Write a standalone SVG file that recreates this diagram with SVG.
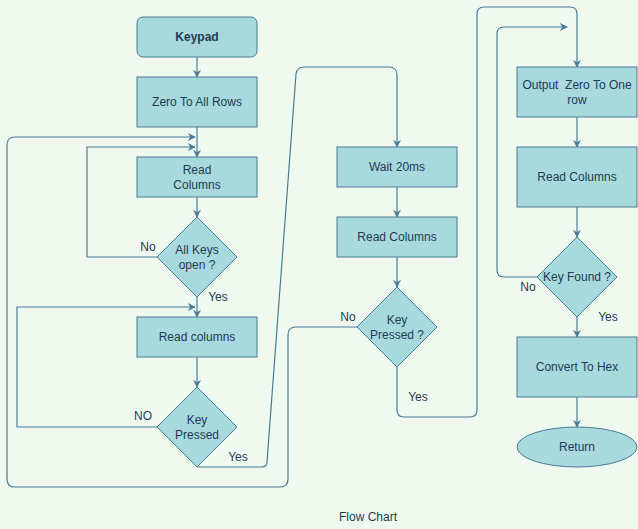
<svg xmlns="http://www.w3.org/2000/svg" width="638" height="529" viewBox="0 0 638 529">
<style>
.n{fill:#a8d9dc;stroke:#4a7c98;stroke-width:1}
.c{fill:none;stroke:#4a7c98;stroke-width:1.2}
.a{fill:none;stroke:#4a7c98;stroke-width:1.2;marker-end:url(#ah)}
text{font-family:"Liberation Sans",Arial,sans-serif;font-size:12px;fill:#1f3a55;text-anchor:middle}
.l{text-anchor:start}
</style>
<defs>
<marker id="ah" viewBox="0 0 10 10" refX="9" refY="5" markerWidth="8" markerHeight="8" markerUnits="userSpaceOnUse" orient="auto">
<path d="M0,0 L10,5 L0,10 L3,5 Z" fill="#4a7c98"/>
</marker>
</defs>
<rect width="638" height="529" fill="#f0f9ef"/>
<g id="connectors">
<path class="a" d="M197,57 V77"/>
<path class="a" d="M197,127 V157"/>
<path class="a" d="M157,257 H87 V147 H195"/>
<path class="a" d="M357,327 H296 Q288,327 288,335 V479 Q288,487 280,487 H15 Q7,487 7,479 V145 Q7,137 15,137 H195"/>
<path class="a" d="M197,197 V217"/>
<path class="a" d="M197,297 V317"/>
<path class="a" d="M157,427 H17 V307 H195"/>
<path class="a" d="M197,357 V387"/>
<path class="a" d="M197,467 H262 Q267,467 267,462 L296,74 Q297,67 304,67 H389 Q397,67 397,75 V147"/>
<path class="a" d="M397,187 V217"/>
<path class="a" d="M397,257 V287"/>
<path class="a" d="M397,367 V410 Q397,417 404,417 H470 Q477,417 477,410 V14 Q477,7 484,7 H570 Q577,7 577,14 V67"/>
<path class="a" d="M537,277 H504 Q497,277 497,270 V34 Q497,27 504,27 H567"/>
<path class="a" d="M577,117 V147"/>
<path class="a" d="M577,207 V237"/>
<path class="a" d="M577,317 V337"/>
<path class="a" d="M577,397 V427"/>
</g>
<g id="keypad"><rect class="n" x="137" y="17" width="120" height="40" rx="6"/><text x="197" y="41" style="font-weight:bold">Keypad</text></g>
<g id="zero-rows"><rect class="n" x="137" y="77" width="120" height="50"/><text x="197" y="106">Zero To All Rows</text></g>
<g id="read-columns-1"><rect class="n" x="137" y="157" width="120" height="40"/><text x="197" y="174">Read</text><text x="197" y="189">Columns</text></g>
<g id="all-keys-open"><path class="n" d="M197,217 L237,257 L197,297 L157,257 Z"/><text x="197" y="254">All Keys</text><text x="197" y="269">open ?</text></g>
<g id="read-columns-2"><rect class="n" x="137" y="317" width="120" height="40"/><text x="197" y="341">Read columns</text></g>
<g id="key-pressed-1"><path class="n" d="M197,387 L237,427 L197,467 L157,427 Z"/><text x="197" y="424">Key</text><text x="197" y="439">Pressed</text></g>
<g id="wait"><rect class="n" x="337" y="147" width="120" height="40"/><text x="397" y="171">Wait 20ms</text></g>
<g id="read-columns-3"><rect class="n" x="337" y="217" width="120" height="40"/><text x="397" y="241">Read Columns</text></g>
<g id="key-pressed-2"><path class="n" d="M397,287 L437,327 L397,367 L357,327 Z"/><text x="397" y="324">Key</text><text x="397" y="339">Pressed ?</text></g>
<g id="output-zero"><rect class="n" x="517" y="67" width="120" height="50"/><text x="577" y="89" style="white-space:pre">Output  Zero To One</text><text x="577" y="104">row</text></g>
<g id="read-columns-4"><rect class="n" x="517" y="147" width="120" height="60"/><text x="577" y="181">Read Columns</text></g>
<g id="key-found"><path class="n" d="M577,237 L617,277 L577,317 L537,277 Z"/><text x="577" y="281">Key Found ?</text></g>
<g id="convert"><rect class="n" x="517" y="337" width="120" height="60"/><text x="577" y="371">Convert To Hex</text></g>
<g id="return"><ellipse class="n" cx="577" cy="447" rx="60" ry="20"/><text x="577" y="451">Return</text></g>
<g id="labels">
<text x="148" y="251">No</text>
<text x="218" y="301">Yes</text>
<text x="143" y="420">NO</text>
<text x="238" y="461">Yes</text>
<text x="348" y="321">No</text>
<text x="418" y="401">Yes</text>
<text x="528" y="291">No</text>
<text x="608" y="321">Yes</text>
<text x="368" y="521">Flow Chart</text>
</g>
</svg>
